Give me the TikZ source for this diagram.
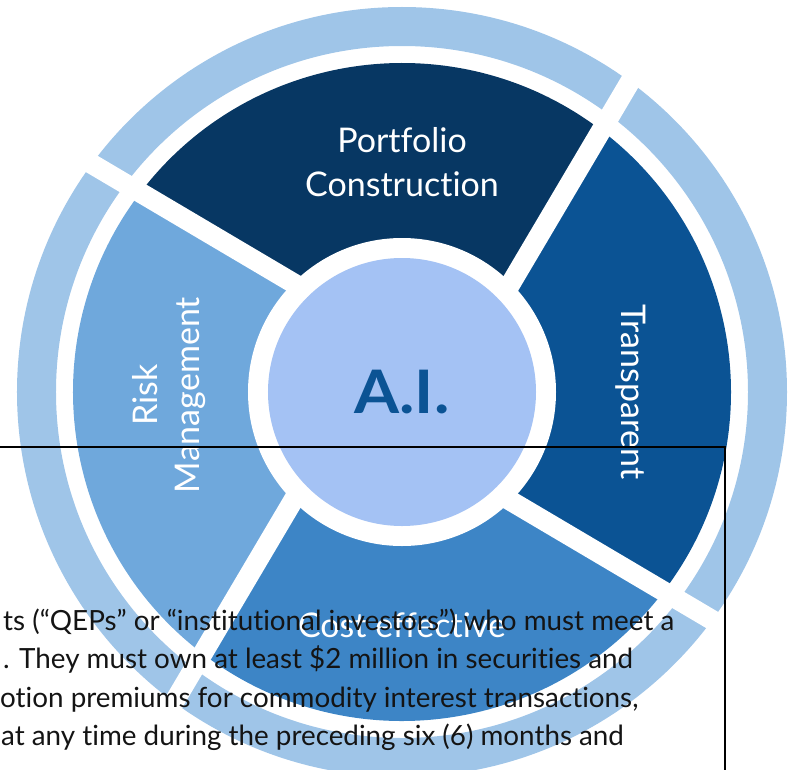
\documentclass[tikz,border=0pt]{standalone}
\usepackage{fontspec}
\setmainfont{Lato}[Ligatures={NoCommon,NoContextual}]
\usetikzlibrary{calc}

\definecolor{ringblue}{HTML}{9FC5E8}
\definecolor{navyseg}{HTML}{073763}
\definecolor{darkseg}{HTML}{0B5394}
\definecolor{midseg}{HTML}{3D85C6}
\definecolor{lightseg}{HTML}{6FA8DC}
\definecolor{coreblue}{HTML}{A4C2F4}

\begin{document}
\begin{tikzpicture}[x=1pt, y=1pt,
  seglabel/.style={text=white, inner sep=0pt, anchor=base, font=\fontsize{34}{40}\selectfont},
  bodytext/.style={anchor=base west, inner sep=0pt, text=black!92, font=\fontsize{27.8}{38}\selectfont}]
\useasboundingbox (-402,-377) rectangle (392,392);
\clip (-402,-377) rectangle (392,392);

% gap lines, inner and outer end
\foreach \g/\a in {ne/45, nw/135, sw/225, se/315} {
  \coordinate (\g-in) at (\a:154.5);
  \coordinate (\g-out) at ({\a+7.7}:329);
}

% outer ring
\draw[ringblue, line width=39] (0,0) circle (365.5);

% four segments
\fill[navyseg] (0,0) -- ($(ne-in)!-0.3!(ne-out)$) -- (ne-out)
  arc[start angle=52.7, end angle=142.7, radius=329] -- ($(nw-in)!-0.3!(nw-out)$) -- cycle;
\fill[lightseg] (0,0) -- ($(nw-in)!-0.3!(nw-out)$) -- (nw-out)
  arc[start angle=142.7, end angle=232.7, radius=329] -- ($(sw-in)!-0.3!(sw-out)$) -- cycle;
\fill[midseg] (0,0) -- ($(sw-in)!-0.3!(sw-out)$) -- (sw-out)
  arc[start angle=232.7, end angle=322.7, radius=329] -- ($(se-in)!-0.3!(se-out)$) -- cycle;
\fill[darkseg] (0,0) -- ($(se-in)!-0.3!(se-out)$) -- (se-out)
  arc[start angle=-37.3, end angle=52.7, radius=329] -- ($(ne-in)!-0.3!(ne-out)$) -- cycle;

% white cuts
\foreach \g in {ne, nw, sw, se}
  \draw[white, line width=20] ($(\g-in)!-0.3!(\g-out)$) -- ($(\g-in)!1.5!(\g-out)$);
\fill[white] (0,0) circle (154);

% centre
\node[circle, fill=coreblue, minimum size=268, inner sep=0pt, text=darkseg,
  font=\bfseries\fontsize{60}{64}\selectfont] (core) at (0,0) {\scalebox{1.08}[1]{A.I.}};

% segment labels
\node[seglabel] (port) at (0,240) {Portfolio};
\node[seglabel] (constr) at (0,196) {Construction};
\node[seglabel, rotate=-90] (transp) at (219,0) {Transparent};
\node[seglabel, rotate=90] (risk) at (-244,-3) {Risk};
\node[seglabel, rotate=90] (manag) at (-202,-3) {Management};
\node[seglabel] (cost) at (0,-245) {Cost effective};

% text box laid over the picture
\draw[black, line width=2] (-410,-55) -- (323,-55) -- (323,-390);
\node[bodytext] (line1) at (-399,-238) {ts (“QEPs” or “institutional investors”) who must meet a};
\node[bodytext] (line2) at (-399,-276) {. They must own at least \$2 million in securities and};
\node[bodytext] (line3) at (-402,-315) {otion premiums for commodity interest transactions,};
\node[bodytext] (line4) at (-401,-353) {at any time during the preceding six (6) months and};
\end{tikzpicture}
\end{document}
